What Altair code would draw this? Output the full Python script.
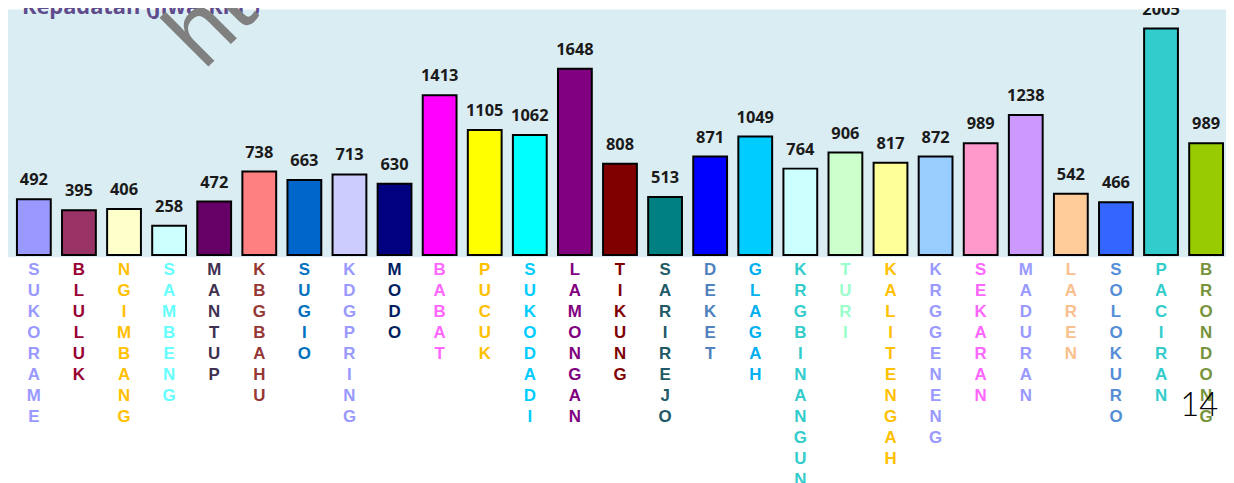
import altair as alt
import pandas as pd

categories = ["SUKORAME", "BLULUK", "NGIMBANG", "SAMBENG", "MANTUP", "KBGBAHU", "SUGIO",
              "KDGPRING", "MODO", "BABAT", "PUCUK", "SUKODADI", "LAMONGAN", "TIKUNG",
              "SARIREJO", "DEKET", "GLAGAH", "KRGBINANGUN", "TURI", "KALITENGAH",
              "KRGGENENG", "SEKARAN", "MADURAN", "LAREN", "SOLOKURO", "PACIRAN", "BRONDONG"]
values = [492, 395, 406, 258, 472, 738, 663, 713, 630, 1413, 1105, 1062, 1648, 808,
          513, 871, 1049, 764, 906, 817, 872, 989, 1238, 542, 466, 2005, 989]
bar_colors = ["#9999FF", "#993366", "#FFFFCC", "#CCFFFF", "#660066", "#FF8080", "#0066CC",
              "#CCCCFF", "#000080", "#FF00FF", "#FFFF00", "#00FFFF", "#800080", "#800000",
              "#008080", "#0000FF", "#00CCFF", "#CCFFFF", "#CCFFCC", "#FFFF99",
              "#99CCFF", "#FF99CC", "#CC99FF", "#FFCC99", "#3366FF", "#33CCCC", "#99CC00"]
label_colors = ["#9999FF", "#990033", "#FFC000", "#66FFFF", "#403151", "#953735", "#0070C0",
                "#9999FF", "#002060", "#FF66FF", "#FFC000", "#00CCFF", "#800080", "#800000",
                "#215967", "#4F81BD", "#00B0F0", "#33CCCC", "#99FFCC", "#FFC000",
                "#9999FF", "#FF66FF", "#9999FF", "#FABF8F", "#558ED5", "#33CCCC", "#77933C"]

title_text = "Kepadatan (Jiwa/Km²)"
watermark_text = "http://"
page_number = "14"

W, H = 1226, 475

bars_df = pd.DataFrame({"cat": categories, "value": values, "color": bar_colors})
letters_rows = []
for c, col in zip(categories, label_colors):
    for i, ch in enumerate(c):
        letters_rows.append({"cat": c, "idx": i, "letter": ch, "color": col})
letters_df = pd.DataFrame(letters_rows)

xscale = alt.Scale(range=[9, 1223], paddingInner=0.25, paddingOuter=0)
X = alt.X("cat:N", sort=categories, scale=xscale, axis=None)
yscale = alt.Scale(domain=[0, 2172], range=[247, 0])

bg = alt.Chart(pd.DataFrame({"a": [0]})).mark_rect(color="#DAEDF3").encode(
    x=alt.value(0), x2=alt.value(W), y=alt.value(0), y2=alt.value(249)
)

bars = alt.Chart(bars_df).mark_bar(stroke="black", strokeWidth=2).encode(
    x=X,
    y=alt.Y("value:Q", scale=yscale, axis=None),
    color=alt.Color("color:N", scale=None),
)

vals = alt.Chart(bars_df).mark_text(
    font="Open Sans", fontWeight="bold", fontSize=16.5, color="#1a1a1a",
    baseline="alphabetic", dy=-14
).encode(
    x=X,
    y=alt.Y("value:Q", scale=yscale, axis=None),
    text=alt.Text("value:Q"),
)

letters = alt.Chart(letters_df).mark_text(
    font="Liberation Sans", fontWeight="bold", fontSize=17, baseline="middle"
).encode(
    x=X,
    y=alt.Y("idx:Q", scale=alt.Scale(domain=[0, 10], range=[262, 474]), axis=None),
    text="letter:N",
    color=alt.Color("color:N", scale=None),
)

title = alt.Chart(pd.DataFrame({"t": [title_text]})).mark_text(
    font="Open Sans", fontWeight="bold", fontSize=22, color="#5F4B8B",
    align="left", baseline="alphabetic"
).encode(x=alt.value(14), y=alt.value(4), text="t:N")

wm = alt.Chart(pd.DataFrame({"t": [watermark_text]})).mark_text(
    font="Liberation Sans", fontSize=96, color="#808080",
    align="left", baseline="alphabetic", angle=315
).encode(x=alt.value(197), y=alt.value(62), text="t:N")

pn = alt.Chart(pd.DataFrame({"t": [page_number]})).mark_text(
    font="Lato", fontWeight=300, fontSize=33, color="#000000",
    align="center", baseline="alphabetic"
).encode(x=alt.value(1199), y=alt.value(409), text="t:N")

chart = alt.layer(bg, bars, vals, letters, title, wm, pn).resolve_scale(
    y="independent"
).properties(
    width=W, height=H, padding=0,
    autosize=alt.AutoSizeParams(type="none"),
    background="white",
).configure_view(strokeWidth=0)

chart.save("out.html", embed_options={"renderer": "svg", "actions": False})
